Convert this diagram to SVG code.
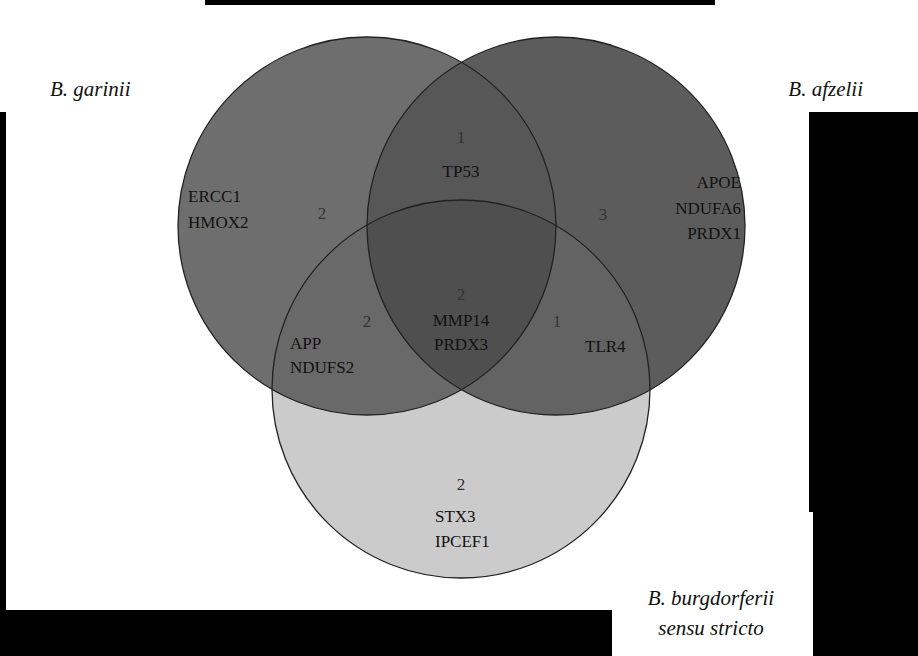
<svg xmlns="http://www.w3.org/2000/svg" width="918" height="656" viewBox="0 0 918 656">
<style>
.t{font-family:"Liberation Serif",serif;font-size:17px;fill:#111}
.n{font-family:"Liberation Serif",serif;font-size:17px;fill:#333}
.h{font-family:"Liberation Serif",serif;font-size:21px;font-style:italic;fill:#111}
.c{stroke:#222;stroke-width:1.3;fill:none}
</style>
<defs>
<clipPath id="cL"><circle cx="367" cy="226" r="189"/></clipPath>
<clipPath id="cR"><circle cx="556" cy="226" r="189"/></clipPath>
<clipPath id="cB"><circle cx="461" cy="389" r="189"/></clipPath>
</defs>
<rect width="918" height="656" fill="#000"/>
<polygon fill="#fff" points="0,0 205,0 205,5 715,5 715,0 918,0 918,112 809,112 809,512 813,512 813,656 612,656 612,610 6,610 6,112 0,112"/>
<g id="fills">
<circle cx="461" cy="389" r="189" fill="#cbcbcb"/>
<circle cx="367" cy="226" r="189" fill="#6e6e6e"/>
<circle cx="556" cy="226" r="189" fill="#5c5c5c"/>
<g clip-path="url(#cB)">
<circle cx="367" cy="226" r="189" fill="#696969"/>
<circle cx="556" cy="226" r="189" fill="#636363"/>
</g>
<g clip-path="url(#cL)"><circle cx="556" cy="226" r="189" fill="#575757"/>
<g clip-path="url(#cB)"><circle cx="556" cy="226" r="189" fill="#4f4f4f"/></g></g>
</g>
<g id="outlines">
<circle class="c" cx="461" cy="389" r="189"/>
<circle class="c" cx="367" cy="226" r="189"/>
<circle class="c" cx="556" cy="226" r="189"/>
</g>
<g id="garinii"><text class="h" x="50" y="96">B. garinii</text>
<text class="t" x="188" y="202">ERCC1</text><text class="t" x="188" y="228">HMOX2</text><text class="n" x="322" y="219" text-anchor="middle">2</text></g>
<g id="afzelii"><text class="h" x="863" y="96" text-anchor="end">B. afzelii</text>
<text class="t" x="741" y="188" text-anchor="end">APOE</text><text class="t" x="741" y="214" text-anchor="end">NDUFA6</text><text class="t" x="741" y="239" text-anchor="end">PRDX1</text><text class="n" x="603" y="220" text-anchor="middle">3</text></g>
<g id="burgdorferi"><text class="h" x="711" y="605" text-anchor="middle">B. burgdorferii</text><text class="h" x="711" y="635" text-anchor="middle">sensu stricto</text>
<text class="n" x="461" y="490" text-anchor="middle">2</text><text class="t" x="435" y="522">STX3</text><text class="t" x="435" y="547">IPCEF1</text></g>
<g id="ga"><text class="n" x="461" y="143" text-anchor="middle">1</text><text class="t" x="461" y="177" text-anchor="middle">TP53</text></g>
<g id="all"><text class="n" x="461" y="300" text-anchor="middle">2</text><text class="t" x="461" y="326" text-anchor="middle">MMP14</text><text class="t" x="461" y="350" text-anchor="middle">PRDX3</text></g>
<g id="gb"><text class="n" x="367" y="327" text-anchor="middle">2</text><text class="t" x="290" y="349">APP</text><text class="t" x="290" y="373">NDUFS2</text></g>
<g id="ab"><text class="n" x="557" y="327" text-anchor="middle">1</text><text class="t" x="585" y="352">TLR4</text></g>
<g id="connectors"/>
</svg>
